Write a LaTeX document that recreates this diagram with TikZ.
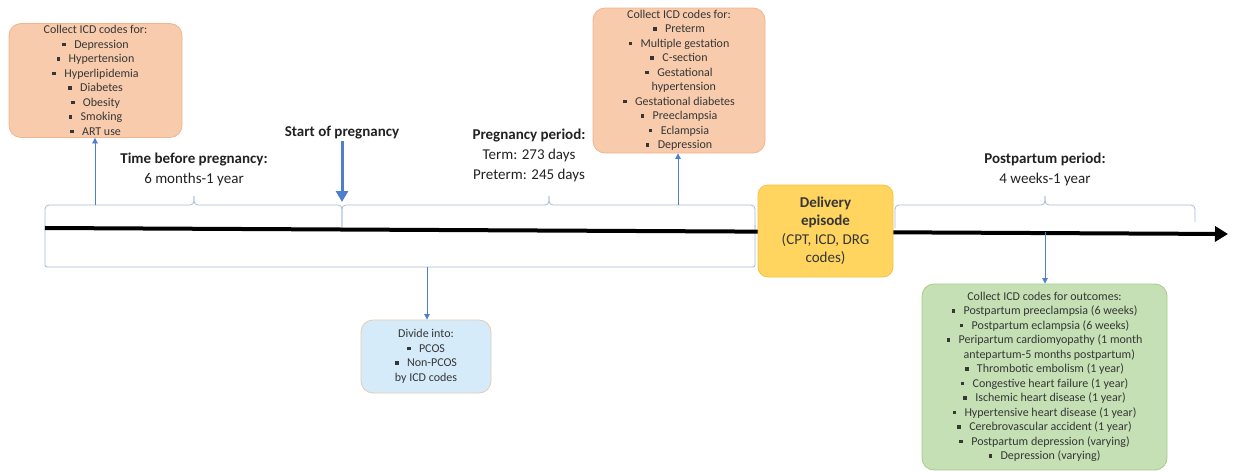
\documentclass[tikz,border=0pt]{standalone}
\usepackage{fontspec}
\setmainfont{Carlito}
\usepackage{xcolor}
\usetikzlibrary{arrows.meta,positioning}
\definecolor{codefill}{HTML}{F8CBAD}
\definecolor{codedraw}{HTML}{F1B48C}
\definecolor{outfill}{HTML}{C5E0B4}
\definecolor{outdraw}{HTML}{A8CB8B}
\definecolor{delfill}{HTML}{FFD55F}
\definecolor{deldraw}{HTML}{F3C246}
\definecolor{pcosfill}{HTML}{D6EBFA}
\definecolor{pcosdraw}{HTML}{E2CBB0}
\definecolor{linkblue}{HTML}{4F7FCC}
\definecolor{bracecol}{HTML}{A7BAD8}
\definecolor{boxtext}{HTML}{363636}
\definecolor{lbltext}{HTML}{222222}
\newcommand{\sq}{\rule[0.18em]{0.3em}{0.3em}\hspace{0.7em}}

\begin{document}
\begin{tikzpicture}[
    x=1pt, y=-1pt,
    node distance=6pt,
    codebox/.style={rectangle, draw=codedraw, fill=codefill, rounded corners=12pt, align=center, font=\fontsize{12}{14.5}\selectfont, text=boxtext, inner sep=2pt, line width=0.8pt},
    outbox/.style={codebox, draw=outdraw, fill=outfill},
    pcosbox/.style={codebox, draw=pcosdraw, fill=pcosfill},
    delbox/.style={rectangle, draw=deldraw, fill=delfill, rounded corners=10pt, align=center, font=\fontsize{15}{18.5}\selectfont, text=boxtext, line width=0.8pt},
    lbl/.style={align=center, font=\fontsize{15}{20}\selectfont, text=lbltext, inner sep=1pt},
    link/.style={-{Triangle[length=5.5pt,width=5.5pt]}, draw=linkblue, line width=0.7pt},
    bigarrow/.style={-{Triangle[length=11pt,width=12pt]}, draw=linkblue, line width=3pt},
    timeline/.style={-{Triangle[length=13pt,width=15pt]}, draw=black, line width=4pt},
    bracket/.style={draw=bracecol, line width=0.8pt, rounded corners=4pt},
]
\useasboundingbox (0,0) rectangle (1235,471);

% === BRACES ===
\coordinate (tip1) at (194,196);
\coordinate (tip2) at (549,196);
\coordinate (tip3) at (1045,196);
\draw[bracket] (45,228) -- (45,205) -- (194,205) -- (tip1);
\draw[bracket] (342,228) -- (342,205) -- (194,205) -- (tip1);
\draw[bracket] (342,228) -- (342,205) -- (549,205) -- (tip2);
\draw[bracket] (755,228) -- (755,205) -- (549,205) -- (tip2);
\draw[bracket] (895,228) -- (895,205) -- (1045,205) -- (tip3);
\draw[bracket] (1195,222) -- (1195,205) -- (1045,205) -- (tip3);
\draw[bracket, rounded corners=2pt] (45,225) -- (45,267) -- (755,267) -- (755,225);

% === TIMELINE ===
\coordinate (t0) at (45,228);
\coordinate (tend) at (1228,234);
\draw[timeline] (t0) -- (tend);

% === CODE BOXES ===
\node[codebox, minimum width=173pt, minimum height=113pt] (prebox) at (95.5,80.5) {Collect ICD codes for:\\\sq Depression\\\sq Hypertension\\\sq Hyperlipidemia\\\sq Diabetes\\\sq Obesity\\\sq Smoking\\\sq ART use};
\node[codebox, minimum width=172pt, minimum height=145pt] (pregbox) at (679,80.5) {Collect ICD codes for:\\\sq Preterm\\\sq Multiple gestation\\\sq C-section\\\sq Gestational\\\hspace*{0.8em}hypertension\\\sq Gestational diabetes\\\sq Preeclampsia\\\sq Eclampsia\\\sq Depression};
\node[delbox, minimum width=135pt, minimum height=92pt] (deliv) at (825.5,231) {\textbf{Delivery}\\\textbf{episode}\\(CPT, ICD, DRG\\codes)};
\node[pcosbox, minimum width=130pt, minimum height=73pt] (pcos) at (426,356.5) {Divide into:\\\sq PCOS\\\sq Non-PCOS\\by ICD codes};
\node[outbox, minimum width=245pt, minimum height=186pt] (outcome) at (1044.5,377) {Collect ICD codes for outcomes:\\\sq Postpartum preeclampsia (6 weeks)\\\sq Postpartum eclampsia (6 weeks)\\\sq Peripartum cardiomyopathy (1 month\\\hspace*{0.8em}antepartum-5 months postpartum)\\\sq Thrombotic embolism (1 year)\\\sq Congestive heart failure (1 year)\\\sq Ischemic heart disease (1 year)\\\sq Hypertensive heart disease (1 year)\\\sq Cerebrovascular accident (1 year)\\\sq Postpartum depression (varying)\\\sq Depression (varying)};

% === PERIOD LABELS ===
\node[lbl, above=9pt of tip1] (before) {\textbf{Time before pregnancy:}\\6 months-1 year};
\node[lbl, above=13pt of tip2, xshift=-20pt] (period) {\textbf{Pregnancy period:}\\Term: 273 days\\Preterm: 245 days};
\node[lbl, above=9pt of tip3] (post) {\textbf{Postpartum period:}\\4 weeks-1 year};
\node[lbl, font=\fontsize{15}{20}\selectfont\bfseries] (start) at (342,133) {Start of pregnancy};

% === ARROWS ===
\coordinate (startpt) at (342,202);
\coordinate (prept) at (95,205);
\coordinate (pregpt) at (678,205);
\coordinate (pcospt) at (427,267);
\coordinate (postpt) at (1045,232);
\draw[bigarrow] (start.south) -- (startpt);
\draw[link] (prept) -- (prebox.south -| prept);
\draw[link] (pregpt) -- (pregpt |- pregbox.south);
\draw[link] (pcospt) -- (pcospt |- pcos.north);
\draw[link] (postpt) -- (postpt |- outcome.north);

\end{tikzpicture}
\end{document}
